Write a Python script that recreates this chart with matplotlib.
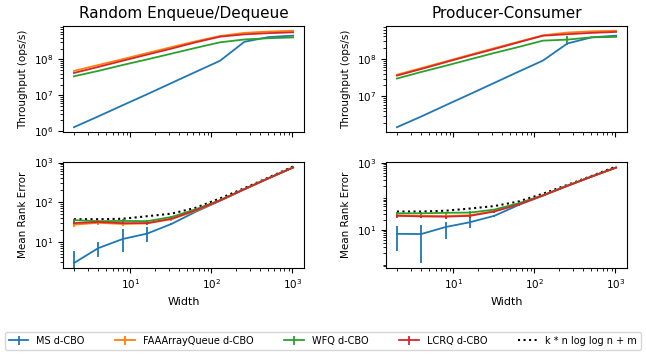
import matplotlib
matplotlib.use("Agg")
import matplotlib.pyplot as plt
from matplotlib.ticker import LogLocator

widths = [2, 4, 8, 16, 32, 64, 128, 256, 512, 1024]
series_names = ["MS d-CBO", "FAAArrayQueue d-CBO", "WFQ d-CBO", "LCRQ d-CBO"]
bound_name = "k * n log log n + m"

# throughput (ops/s), random enqueue/dequeue
red_tp_ms = [1.3e6, 2.6e6, 5.3e6, 1.07e7, 2.2e7, 4.5e7, 9.2e7, 3.1e8, 4.2e8, 4.6e8]
red_tp_faa = [4.8e7, 7.0e7, 1.02e8, 1.5e8, 2.2e8, 3.2e8, 4.5e8, 5.5e8, 6.0e8, 6.3e8]
red_tp_wfq = [3.4e7, 4.8e7, 7.0e7, 1.0e8, 1.45e8, 2.1e8, 3.0e8, 3.6e8, 3.9e8, 4.1e8]
red_tp_lcrq = [4.2e7, 6.2e7, 9.2e7, 1.36e8, 2.0e8, 3.0e8, 4.3e8, 5.0e8, 5.4e8, 5.7e8]

# throughput (ops/s), producer-consumer
pc_tp_ms = [1.5e6, 2.9e6, 5.8e6, 1.15e7, 2.3e7, 4.6e7, 9.1e7, 2.6e8, 3.8e8, 4.2e8]
pc_tp_faa = [3.8e7, 5.7e7, 8.6e7, 1.3e8, 1.95e8, 2.9e8, 4.3e8, 5.1e8, 5.5e8, 5.7e8]
pc_tp_wfq = [3.0e7, 4.5e7, 6.6e7, 9.8e7, 1.45e8, 2.1e8, 3.1e8, 3.3e8, 3.8e8, 3.9e8]
pc_tp_lcrq = [3.6e7, 5.4e7, 8.2e7, 1.24e8, 1.85e8, 2.8e8, 4.2e8, 4.6e8, 5.0e8, 5.3e8]
pc_tp_ms_err = [0, 0, 0, 0, 0, 0, 0, 0, 0, 3e7]
pc_tp_wfq_err = [0, 0, 0, 0, 0, 0, 0, 9e7, 0, 0]

# mean rank error, random enqueue/dequeue
red_err_ms = [2.9, 6.9, 11.7, 16, 28, 57, 108, 210, 400, 745]
red_err_ms_lo = [3.1, 2.8, 6.1, 6.4, 2, 2, 0, 0, 0, 0]
red_err_ms_hi = [3.1, 2.7, 9.3, 7, 2, 2, 0, 0, 0, 0]
red_err_faa = [27, 30, 28, 29, 37, 60, 110, 212, 402, 748]
red_err_wfq = [35, 33, 33.5, 33, 42, 66, 112, 214, 404, 750]
red_err_lcrq = [29.5, 31.5, 29.5, 29.5, 38, 62, 110, 212, 402, 748]
red_err_small = [3, 3, 3, 3, 3, 1, 0, 0, 0, 0]
red_bound = [37, 37, 38, 44, 51, 72, 124, 225, 420, 790]

# mean rank error, producer-consumer
pc_err_ms = [7.5, 7.4, 12, 16.7, 26, 55, 105, 205, 390, 725]
pc_err_ms_lo = [5.25, 6.4, 6.7, 5.5, 2, 2, 0, 0, 0, 0]
pc_err_ms_hi = [5.0, 6.0, 5.5, 9.3, 2, 2, 0, 0, 0, 0]
pc_err_faa = [27, 26, 25.5, 27, 36, 58, 106, 206, 392, 728]
pc_err_wfq = [31, 31, 32, 32.5, 40, 62, 108, 208, 394, 730]
pc_err_lcrq = [26, 25, 24.5, 26, 35, 57, 106, 206, 392, 728]
pc_err_small = [3, 3, 3, 3, 3, 1, 0, 0, 0, 0]
pc_bound = [35, 35, 37, 43, 51, 70, 120, 220, 410, 780]

colors = ["tab:blue", "tab:orange", "tab:green", "tab:red"]
LW = 1.3


def draw_series(ax, ys, errs):
    conts = []
    for y, e, c, name in zip(ys, errs, colors, series_names):
        conts.append(ax.errorbar(widths, y, yerr=e, color=c, lw=LW,
                                 elinewidth=LW, capsize=0, label=name))
    return conts


fig, axes = plt.subplots(2, 2, figsize=(6.46, 3.6), dpi=100, sharex="col")
fig.subplots_adjust(left=0.0975, right=0.9706, top=0.928, bottom=0.256,
                    wspace=0.34, hspace=0.28)

zero = [0] * len(widths)
draw_series(axes[0, 0], [red_tp_ms, red_tp_faa, red_tp_wfq, red_tp_lcrq],
            [zero, zero, zero, zero])
draw_series(axes[0, 1], [pc_tp_ms, pc_tp_faa, pc_tp_wfq, pc_tp_lcrq],
            [pc_tp_ms_err, zero, pc_tp_wfq_err, zero])
handles = draw_series(axes[1, 0], [red_err_ms, red_err_faa, red_err_wfq, red_err_lcrq],
                      [[red_err_ms_lo, red_err_ms_hi], red_err_small, red_err_small, red_err_small])
axes[1, 0].plot(widths, red_bound, color="black", linestyle=":", lw=1.5, label=bound_name)
draw_series(axes[1, 1], [pc_err_ms, pc_err_faa, pc_err_wfq, pc_err_lcrq],
            [[pc_err_ms_lo, pc_err_ms_hi], pc_err_small, pc_err_small, pc_err_small])
bound_line, = axes[1, 1].plot(widths, pc_bound, color="black", linestyle=":", lw=1.5,
                              label=bound_name)

for ax in axes.flat:
    ax.set_xscale("log")
    ax.set_yscale("log")
    ax.yaxis.set_major_locator(LogLocator(base=10, numticks=3))
    ax.tick_params(labelsize=7.5)

axes[0, 0].set_title("Random Enqueue/Dequeue", fontsize=11)
axes[0, 1].set_title("Producer-Consumer", fontsize=11)
for ax in axes[0]:
    ax.set_ylabel("Throughput (ops/s)", fontsize=7.5)
for ax in axes[1]:
    ax.set_ylabel("Mean Rank Error", fontsize=7.5)
    ax.set_xlabel("Width", fontsize=8)

fig.legend(handles + [bound_line], series_names + [bound_name],
           loc="lower center", bbox_to_anchor=(0.5, 0.015), ncol=5,
           fontsize=7, columnspacing=3.2)

fig.savefig("out.png", dpi=100)
